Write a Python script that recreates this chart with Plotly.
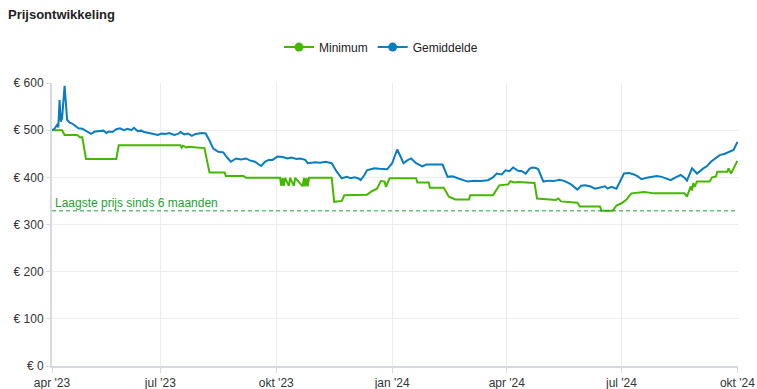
import plotly.graph_objects as go

# ---------------- data ----------------
min_dates = ["2023-04-06", "2023-04-14", "2023-04-16", "2023-04-26", "2023-04-28", "2023-04-30",
             "2023-05-03", "2023-05-27", "2023-05-29", "2023-07-17", "2023-07-18", "2023-07-19",
             "2023-07-22", "2023-07-23", "2023-08-05", "2023-08-09", "2023-08-21", "2023-08-22",
             "2023-09-05", "2023-09-07", "2023-10-04", "2023-10-05", "2023-10-06", "2023-10-07",
             "2023-10-08", "2023-10-11", "2023-10-12", "2023-10-15", "2023-10-16", "2023-10-22",
             "2023-10-23", "2023-10-24", "2023-10-25", "2023-10-26", "2023-10-27", "2023-11-14",
             "2023-11-16", "2023-11-22", "2023-11-24", "2023-12-12", "2023-12-15", "2023-12-17",
             "2023-12-20", "2023-12-23", "2023-12-26", "2023-12-27", "2023-12-30", "2024-01-20",
             "2024-01-21", "2024-01-30", "2024-01-31", "2024-02-11", "2024-02-15", "2024-02-20",
             "2024-03-02", "2024-03-03", "2024-03-21", "2024-03-26", "2024-04-02", "2024-04-04",
             "2024-04-07", "2024-04-10", "2024-04-23", "2024-04-25", "2024-05-10", "2024-05-12",
             "2024-05-14", "2024-05-27", "2024-05-29", "2024-06-14", "2024-06-15", "2024-06-24",
             "2024-06-27", "2024-07-01", "2024-07-05", "2024-07-07", "2024-07-09", "2024-07-19",
             "2024-07-27", "2024-08-20", "2024-08-22", "2024-08-25", "2024-08-26", "2024-08-27",
             "2024-08-28", "2024-08-30", "2024-09-09", "2024-09-11", "2024-09-14", "2024-09-15",
             "2024-09-23", "2024-09-24", "2024-09-26", "2024-10-01"]
min_values = [500, 500, 490, 490, 485, 485,
              439, 439, 468, 468, 463, 467,
              463, 465, 462, 410, 410, 403,
              403, 399, 399, 382, 399, 382,
              399, 382, 399, 382, 399, 381,
              399, 381, 399, 381, 399, 399,
              348, 350, 362, 363, 369, 372,
              376, 392, 391, 380, 398, 398,
              389, 389, 378, 378, 359, 353,
              353, 362, 362, 383, 385, 392,
              389, 390, 388, 355, 352, 355,
              349, 346, 338, 338, 329, 329,
              340, 345, 353, 360, 366, 369,
              366, 366, 359, 381, 372, 388,
              380, 391, 391, 400, 402, 412,
              412, 419, 408, 435]

avg_dates = ["2023-04-06", "2023-04-08", "2023-04-10", "2023-04-11", "2023-04-12", "2023-04-13",
             "2023-04-14", "2023-04-16", "2023-04-18", "2023-04-20", "2023-04-22", "2023-04-25",
             "2023-04-27", "2023-04-30", "2023-05-02", "2023-05-04", "2023-05-07", "2023-05-10",
             "2023-05-14", "2023-05-17", "2023-05-19", "2023-05-21", "2023-05-24", "2023-05-27",
             "2023-05-30", "2023-06-02", "2023-06-05", "2023-06-08", "2023-06-10", "2023-06-13",
             "2023-06-16", "2023-06-18", "2023-06-22", "2023-06-26", "2023-06-29", "2023-07-02",
             "2023-07-05", "2023-07-08", "2023-07-12", "2023-07-15", "2023-07-17", "2023-07-20",
             "2023-07-23", "2023-07-26", "2023-07-29", "2023-08-03", "2023-08-06", "2023-08-09",
             "2023-08-12", "2023-08-16", "2023-08-20", "2023-08-23", "2023-08-26", "2023-08-30",
             "2023-09-03", "2023-09-07", "2023-09-10", "2023-09-14", "2023-09-19", "2023-09-22",
             "2023-09-25", "2023-09-28", "2023-10-02", "2023-10-06", "2023-10-10", "2023-10-13",
             "2023-10-17", "2023-10-20", "2023-10-24", "2023-10-26", "2023-11-01", "2023-11-05",
             "2023-11-09", "2023-11-14", "2023-11-18", "2023-11-22", "2023-11-26", "2023-11-29",
             "2023-12-02", "2023-12-05", "2023-12-07", "2023-12-10", "2023-12-12", "2023-12-15",
             "2023-12-18", "2023-12-22", "2023-12-28", "2024-01-01", "2024-01-05", "2024-01-08",
             "2024-01-10", "2024-01-13", "2024-01-16", "2024-01-20", "2024-01-25", "2024-01-28",
             "2024-02-01", "2024-02-06", "2024-02-10", "2024-02-14", "2024-02-18", "2024-02-22",
             "2024-02-26", "2024-03-01", "2024-03-06", "2024-03-11", "2024-03-17", "2024-03-21",
             "2024-03-24", "2024-03-28", "2024-03-31", "2024-04-03", "2024-04-06", "2024-04-10",
             "2024-04-13", "2024-04-16", "2024-04-19", "2024-04-21", "2024-04-24", "2024-04-26",
             "2024-04-30", "2024-05-04", "2024-05-08", "2024-05-13", "2024-05-17", "2024-05-22",
             "2024-05-27", "2024-05-30", "2024-06-02", "2024-06-06", "2024-06-10", "2024-06-14",
             "2024-06-18", "2024-06-20", "2024-06-23", "2024-06-27", "2024-07-03", "2024-07-07",
             "2024-07-11", "2024-07-14", "2024-07-17", "2024-07-21", "2024-07-25", "2024-07-29",
             "2024-08-02", "2024-08-05", "2024-08-09", "2024-08-13", "2024-08-17", "2024-08-20",
             "2024-08-22", "2024-08-26", "2024-08-30", "2024-09-04", "2024-09-07", "2024-09-10",
             "2024-09-14", "2024-09-17", "2024-09-21", "2024-09-25", "2024-09-28", "2024-10-01"]
avg_values = [500, 503, 511, 506, 564, 518,
              525, 594, 522, 516, 514, 508,
              504, 503, 500, 497, 492, 497,
              498, 499, 494, 497, 496, 502,
              504, 500, 503, 500, 505, 498,
              499, 496, 494, 491, 490, 493,
              492, 494, 490, 492, 496, 491,
              493, 488, 492, 494, 493, 478,
              461, 454, 453, 442, 433, 440,
              438, 440, 436, 433, 424, 433,
              437, 437, 444, 443, 440, 442,
              439, 440, 437, 430, 432, 431,
              433, 430, 412, 398, 401, 398,
              400, 398, 394, 405, 415, 417,
              419, 418, 417, 430, 459, 442,
              430, 436, 440, 430, 423, 427,
              427, 426, 427, 401, 402, 398,
              394, 391, 393, 392, 394, 400,
              408, 406, 415, 413, 421, 414,
              413, 408, 418, 421, 420, 417,
              391, 393, 392, 395, 392, 385,
              374, 382, 383, 381, 376, 379,
              381, 376, 380, 376, 408, 409,
              406, 402, 396, 399, 401, 403,
              401, 398, 394, 400, 405, 399,
              393, 419, 408, 419, 424, 433,
              440, 447, 450, 454, 458, 475]

lowest_6m = 329
lowest_label = "Laagste prijs sinds 6 maanden"

tick_dates = ["2023-04-06", "2023-07-01", "2023-10-01", "2024-01-01", "2024-04-01", "2024-07-01", "2024-10-01"]
tick_labels = ["apr '23", "jul '23", "okt '23", "jan '24", "apr '24", "jul '24", "okt '24"]
y_ticks = [0, 100, 200, 300, 400, 500, 600]
y_tick_labels = ["€ 0", "€ 100", "€ 200", "€ 300", "€ 400", "€ 500", "€ 600"]

GREEN = "#44b700"
BLUE = "#0a7dc1"
DASH_GREEN = "#1f9e35"
FONT = "Arial, Liberation Sans, sans-serif"

fig = go.Figure()
fig.add_trace(go.Scatter(x=min_dates, y=min_values, mode="lines", name="Minimum",
                         line=dict(color=GREEN, width=2), showlegend=False))
fig.add_trace(go.Scatter(x=avg_dates, y=avg_values, mode="lines", name="Gemiddelde",
                         line=dict(color=BLUE, width=2), showlegend=False))
# legend entries (line with circle marker)
fig.add_trace(go.Scatter(x=[None], y=[None], mode="lines+markers", name="Minimum",
                         line=dict(color=GREEN, width=2), marker=dict(color=GREEN, size=9)))
fig.add_trace(go.Scatter(x=[None], y=[None], mode="lines+markers", name="Gemiddelde",
                         line=dict(color=BLUE, width=2), marker=dict(color=BLUE, size=9)))

fig.add_shape(type="line", xref="paper", x0=0, x1=1, yref="y", y0=lowest_6m, y1=lowest_6m,
              line=dict(color=DASH_GREEN, width=1, dash="4px,3px"))
fig.add_annotation(xref="paper", x=0, y=lowest_6m, yref="y", text=lowest_label,
                   showarrow=False, xanchor="left", yanchor="bottom", xshift=1, yshift=-1,
                   font=dict(family=FONT, size=12, color=DASH_GREEN))

fig.update_layout(
    width=757, height=389,
    margin=dict(l=52, r=19, t=83, b=23),
    paper_bgcolor="white", plot_bgcolor="white",
    font=dict(family=FONT, size=12, color="#333333"),
    title=dict(text="<b>Prijsontwikkeling</b>", x=8 / 757, xref="container", xanchor="left",
               y=1 - 14 / 389, yref="container", yanchor="middle",
               font=dict(family=FONT, size=13, color="#222222")),
    legend=dict(orientation="h", x=(381 - 52) / 686, xanchor="center", y=1.127, yanchor="middle",
                font=dict(family=FONT, size=12, color="#222222"), bgcolor="rgba(0,0,0,0)"),
    showlegend=True,
)
fig.update_xaxes(range=["2023-04-06", "2024-10-01 12:00"], tickvals=tick_dates, ticktext=tick_labels,
                 automargin=False,
                 showgrid=True, gridcolor="#ececec", gridwidth=1,
                 showline=True, linecolor="#d6dae0", linewidth=2,
                 ticks="outside", ticklen=5, tickcolor="#d6dae0",
                 tickfont=dict(family=FONT, size=12, color="#333333"), zeroline=False)
fig.update_yaxes(range=[0, 600], tickvals=y_ticks, ticktext=y_tick_labels,
                 automargin=False,
                 showgrid=True, gridcolor="#ececec", gridwidth=1,
                 showline=True, linecolor="#d6dae0", linewidth=2,
                 ticks="outside", ticklen=4, tickcolor="#d6dae0",
                 tickfont=dict(family=FONT, size=12, color="#333333"), zeroline=False)

fig.write_html("out.html", config={"displayModeBar": False},
               post_script="document.body.style.margin='0';")
